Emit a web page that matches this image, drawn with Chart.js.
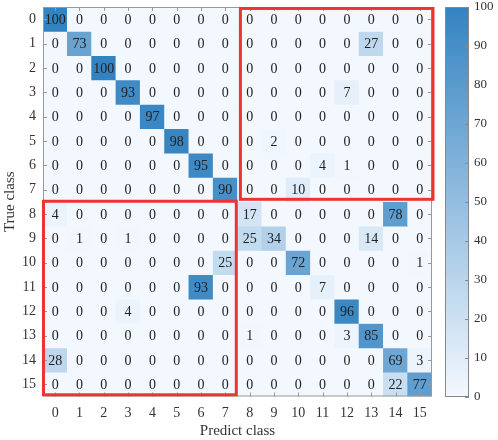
<!DOCTYPE html>
<html>
<head>
<meta charset="utf-8">
<script src="https://cdn.jsdelivr.net/npm/chart.js@4.4.0/dist/chart.umd.min.js"></script>
<style>
  body { margin: 0; background: #fff; }
</style>
</head>
<body>
<canvas id="myChart" width="498" height="440"></canvas>
<script>
// class names (both axes)
const classLabels = ['0','1','2','3','4','5','6','7','8','9','10','11','12','13','14','15'];

// one row per true class, columns = predicted class
const class0  = [100,0,0,0,0,0,0,0, 0,0,0,0,0,0,0,0];
const class1  = [0,73,0,0,0,0,0,0, 0,0,0,0,0,27,0,0];
const class2  = [0,0,100,0,0,0,0,0, 0,0,0,0,0,0,0,0];
const class3  = [0,0,0,93,0,0,0,0, 0,0,0,0,7,0,0,0];
const class4  = [0,0,0,0,97,0,0,0, 0,0,0,0,0,0,0,0];
const class5  = [0,0,0,0,0,98,0,0, 0,2,0,0,0,0,0,0];
const class6  = [0,0,0,0,0,0,95,0, 0,0,0,4,1,0,0,0];
const class7  = [0,0,0,0,0,0,0,90, 0,0,10,0,0,0,0,0];
const class8  = [4,0,0,0,0,0,0,0, 17,0,0,0,0,0,78,0];
const class9  = [0,1,0,1,0,0,0,0, 25,34,0,0,0,14,0,0];
const class10 = [0,0,0,0,0,0,0,25, 0,0,72,0,0,0,0,1];
const class11 = [0,0,0,0,0,0,93,0, 0,0,0,7,0,0,0,0];
const class12 = [0,0,0,4,0,0,0,0, 0,0,0,0,96,0,0,0];
const class13 = [0,0,0,0,0,0,0,0, 1,0,0,0,3,85,0,0];
const class14 = [28,0,0,0,0,0,0,0, 0,0,0,0,0,0,69,3];
const class15 = [0,0,0,0,0,0,0,0, 0,0,0,0,0,0,22,77];

const matrix = [class0, class1, class2, class3, class4, class5, class6, class7,
                class8, class9, class10, class11, class12, class13, class14, class15];

const colorbarTicks = [0, 10, 20, 30, 40, 50, 60, 70, 80, 90, 100];

const serif = '"Liberation Serif", "Times New Roman", serif';
const lowColor = [243, 248, 254];
const highColor = [52, 131, 193];

function colorFor(v) {
  const t = Math.max(0, Math.min(1, v / 100));
  const c = lowColor.map((lo, i) => Math.round(lo + (highColor[i] - lo) * t));
  return `rgb(${c[0]},${c[1]},${c[2]})`;
}

// highlighted blocks, in data units (column range, row range)
const boxes = [
  { x0: 7.62, x1: 15.54, y0: -0.44, y1: 7.4 },
  { x0: -0.48, x1: 7.45, y0: 7.48, y1: 15.43 }
];

const datasets = matrix.map((row, r) => ({
  label: 'True ' + classLabels[r],
  data: row.map(() => [r - 0.5, r + 0.5]),
  backgroundColor: row.map(colorFor),
  borderWidth: 0,
  grouped: false,
  barPercentage: 1,
  categoryPercentage: 1,
  yAxisID: 'y'
}));

// keep the plot area exactly where layout padding puts it
function fixSize(prop, size) {
  return s => {
    s[prop] = size;
    s.paddingTop = 0; s.paddingBottom = 0; s.paddingLeft = 0; s.paddingRight = 0;
  };
}

const cellPlugin = {
  id: 'cells',
  afterDatasetsDraw(chart) {
    const { ctx, chartArea: a, scales: { x, y, cb } } = chart;
    ctx.save();
    // numbers in the cells
    ctx.font = '14px ' + serif;
    ctx.fillStyle = '#222';
    ctx.textAlign = 'center';
    ctx.textBaseline = 'middle';
    matrix.forEach((row, r) => {
      row.forEach((v, c) => {
        ctx.fillText(String(v), x.getPixelForValue(c), y.getPixelForValue(r) + 1);
      });
    });

    // frame and inward ticks
    ctx.strokeStyle = '#999';
    ctx.lineWidth = 1;
    ctx.strokeRect(a.left + 0.5, a.top + 0.5, a.right - a.left - 1, a.bottom - a.top - 1);
    ctx.beginPath();
    classLabels.forEach((_, i) => {
      const px = Math.round(x.getPixelForValue(i)) + 0.5;
      const py = Math.round(y.getPixelForValue(i)) + 0.5;
      ctx.moveTo(px, a.bottom); ctx.lineTo(px, a.bottom - 4);
      ctx.moveTo(px, a.top); ctx.lineTo(px, a.top + 4);
      ctx.moveTo(a.left, py); ctx.lineTo(a.left + 4, py);
      ctx.moveTo(a.right, py); ctx.lineTo(a.right - 4, py);
    });
    ctx.stroke();

    // red highlight boxes
    ctx.strokeStyle = '#ee3333';
    ctx.lineWidth = 3;
    boxes.forEach(b => {
      const l = x.getPixelForValue(b.x0), rr = x.getPixelForValue(b.x1);
      const t = y.getPixelForValue(b.y0), bt = y.getPixelForValue(b.y1);
      ctx.strokeRect(l, t, rr - l, bt - t);
    });

    // colorbar
    const cbL = cb.left + 13, cbR = cb.left + 37;
    const top = cb.getPixelForValue(100), bot = cb.getPixelForValue(0);
    const grad = ctx.createLinearGradient(0, bot, 0, top);
    grad.addColorStop(0, colorFor(0));
    grad.addColorStop(1, colorFor(100));
    ctx.fillStyle = grad;
    ctx.fillRect(cbL, top, cbR - cbL, bot - top);
    ctx.strokeStyle = '#888';
    ctx.lineWidth = 1;
    ctx.strokeRect(Math.round(cbL) + 0.5, Math.round(top) + 0.5, Math.round(cbR - cbL) - 1, Math.round(bot - top) - 1);
    ctx.beginPath();
    colorbarTicks.forEach(v => {
      const py = Math.round(cb.getPixelForValue(v)) + 0.5;
      ctx.moveTo(cbR, py); ctx.lineTo(cbR - 4, py);
    });
    ctx.stroke();
    ctx.restore();
  }
};

const ctx = document.getElementById('myChart').getContext('2d');
new Chart(ctx, {
  type: 'bar',
  data: { labels: classLabels, datasets: datasets },
  options: {
    responsive: false,
    animation: false,
    events: [],
    layout: { padding: { top: 7, right: 0, bottom: 0, left: 0 } },
    plugins: { legend: { display: false }, tooltip: { enabled: false } },
    scales: {
      x: {
        type: 'category',
        offset: true,
        grid: { display: false, drawTicks: false },
        border: { display: false },
        ticks: { color: '#333', padding: 8, font: { family: serif, size: 14 }, maxRotation: 0, autoSkip: false },
        title: { display: true, text: 'Predict class', color: '#333', font: { family: serif, size: 15 }, padding: { top: 0, bottom: 0 } },
        afterFit: fixSize('height', 43.5)
      },
      y: {
        type: 'linear',
        reverse: true,
        min: -0.5,
        max: 15.5,
        afterBuildTicks: s => { s.ticks = classLabels.map((_, i) => ({ value: i })); },
        grid: { display: false, drawTicks: false },
        border: { display: false },
        ticks: { color: '#333', padding: 7, font: { family: serif, size: 14 }, callback: v => classLabels[v] },
        title: { display: true, text: 'True class', color: '#333', font: { family: serif, size: 15 }, padding: { top: 1, bottom: 0 } },
        afterFit: fixSize('width', 43)
      },
      cb: {
        type: 'linear',
        position: 'right',
        min: 0,
        max: 100,
        afterBuildTicks: s => { s.ticks = colorbarTicks.map(v => ({ value: v })); },
        grid: { display: false, drawTicks: false },
        border: { display: false },
        ticks: { color: '#333', padding: 42, font: { family: serif, size: 13 } },
        afterFit: fixSize('width', 66)
      }
    }
  },
  plugins: [cellPlugin]
});
</script>
</body>
</html>
